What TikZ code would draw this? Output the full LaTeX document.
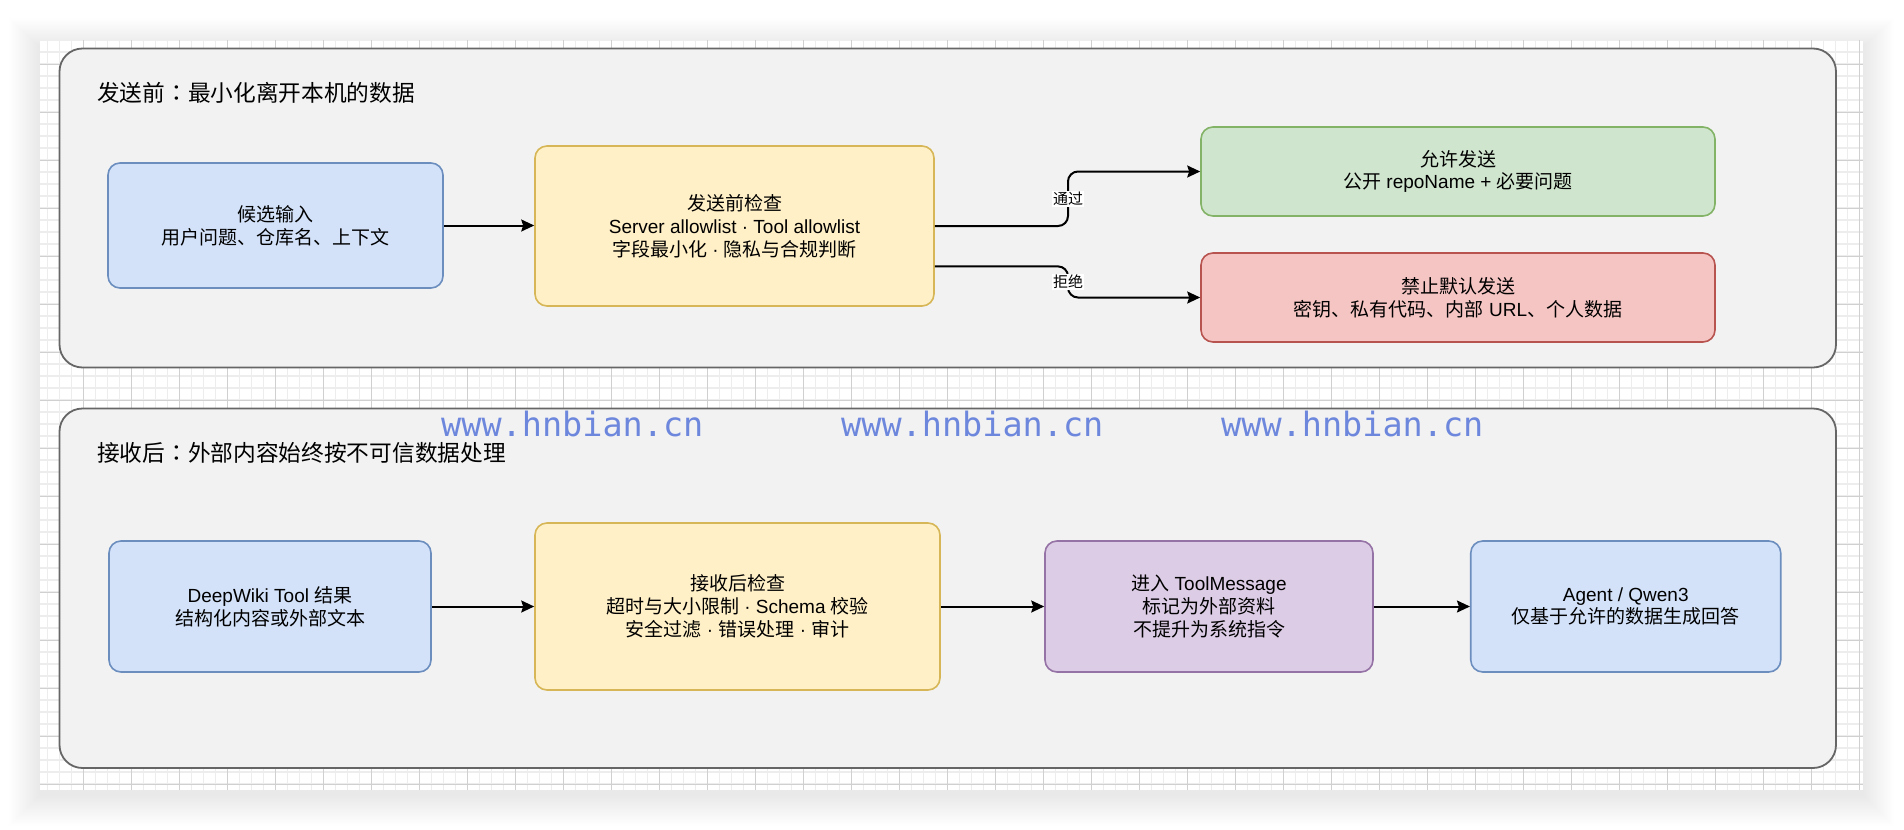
\documentclass[tikz,border=0pt]{standalone}
\usepackage{fontspec}
\setmainfont{Liberation Sans}
\newfontfamily\cjkf{Noto Sans CJK SC}
\newfontfamily\cjktc{Noto Sans CJK TC}
\newfontfamily\latf{Liberation Sans}
\newfontfamily\wmf{DejaVu Sans Mono}
\newcommand\lt[1]{{\latf #1}}
\newcommand\fcolon{{\cjktc ：}}
\usetikzlibrary{arrows.meta,calc}
\definecolor{bluef}{HTML}{D3E2F9}
\definecolor{blues}{HTML}{6C8EBF}
\definecolor{yelf}{HTML}{FFF0C7}
\definecolor{yels}{HTML}{D6B656}
\definecolor{grnf}{HTML}{D0E5CE}
\definecolor{grns}{HTML}{82B366}
\definecolor{redf}{HTML}{F5C5C3}
\definecolor{reds}{HTML}{B85450}
\definecolor{purf}{HTML}{DCCCE5}
\definecolor{purs}{HTML}{9673A6}
\definecolor{contf}{HTML}{F2F2F2}
\definecolor{conts}{HTML}{666666}
\definecolor{gridminor}{HTML}{EDEDED}
\definecolor{gridmajor}{HTML}{D0D0D0}
\definecolor{wm}{HTML}{6D87DD}
\tikzset{
  box/.style={draw, line width=1.6pt, rounded corners=12pt, align=center, inner sep=0pt,
    font=\cjkf\fontsize{19}{22.8}\selectfont},
  container/.style={draw=conts, fill=contf, line width=1.8pt, rounded corners=23pt},
  arr/.style={-{Stealth[length=13pt,width=12pt,inset=2pt]}, line width=2pt, draw=black},
  lab/.style={fill=white, inner sep=1pt, font=\cjkf\fontsize{15}{18}\selectfont},
  ttl/.style={anchor=west, inner sep=0pt, font=\cjkf\fontsize{22.7}{27}\selectfont},
  wmark/.style={anchor=base west, inner sep=0pt, text=wm, font=\wmf\fontsize{33.5}{40}\selectfont}
}
\begin{document}
\begin{tikzpicture}[x=1pt,y=-1pt]
\useasboundingbox (0,0) rectangle (1904,830);
\fill[white] (0,0) rectangle (1904,830);
% page shadow
\foreach \i in {1,...,22} {
  \fill[black,fill opacity=0.0045] (40-1.4*\i,47-1.3*\i) rectangle (1863+1.4*\i,795+1.4*\i);
}
\fill[white] (40,40.5) rectangle (1863,790);
% grid
\begin{scope}
\clip (40,40.5) rectangle (1863,790);
\foreach \x in {47.5,59.5,...,1870} \draw[gridminor,line width=1.2pt] (\x,40) -- (\x,790);
\foreach \y in {52,64,...,795} \draw[gridminor,line width=1.2pt] (40,\y) -- (1863,\y);
\foreach \x in {35.5,83.5,...,1870} \draw[gridmajor,line width=1pt] (\x,40) -- (\x,790);
\foreach \y in {16,64,...,795} \draw[gridmajor,line width=1pt] (40,\y) -- (1863,\y);
\end{scope}
% containers
\draw[container] (59.5,48.5) rectangle (1836,367.5);
\draw[container] (59.5,408.5) rectangle (1836,768);
\node[ttl] (t1) at (97,93) {发送前\fcolon 最小化离开本机的数据};
\node[ttl] (t2) at (97,453) {接收后\fcolon 外部内容始终按不可信数据处理};
% watermark
\node[wmark] (w1) at (441,436.7) {www.hnbian.cn};
\node[wmark] (w2) at (841,436.7) {www.hnbian.cn};
\node[wmark] (w3) at (1221,436.7) {www.hnbian.cn};
% row 1
\node[box, fill=bluef, draw=blues, minimum width=335pt, minimum height=125pt] (in1) at (275.5,225.5)
  {候选输入\\用户问题、仓库名、上下文};
\node[box, fill=yelf, draw=yels, minimum width=399pt, minimum height=160pt] (chk1) at (734.5,226)
  {发送前检查\\\lt{Server allowlist · Tool allowlist}\\字段最小化\lt{ · }隐私与合规判断};
\node[box, fill=grnf, draw=grns, minimum width=514pt, minimum height=89pt] (ok) at (1458,171.5)
  {允许发送\\公开\lt{ repoName + }必要问题};
\node[box, fill=redf, draw=reds, minimum width=514pt, minimum height=89pt] (no) at (1458,297.5)
  {禁止默认发送\\密钥、私有代码、内部\lt{ URL}、个人数据};
% row 2
\node[box, fill=bluef, draw=blues, minimum width=322pt, minimum height=131pt] (tool) at (270,606.5)
  {\lt{DeepWiki Tool }结果\\结构化内容或外部文本};
\node[box, fill=yelf, draw=yels, minimum width=405pt, minimum height=167pt] (chk2) at (737.5,606.5)
  {接收后检查\\超时与大小限制\lt{ · Schema }校验\\安全过滤\lt{ · }错误处理\lt{ · }审计};
\node[box, fill=purf, draw=purs, minimum width=328pt, minimum height=131pt] (msg) at (1209,606.5)
  {进入\lt{ ToolMessage}\\标记为外部资料\\不提升为系统指令};
\node[box, fill=bluef, draw=blues, minimum width=310pt, minimum height=131pt] (agent) at (1625.75,606.5)
  {\lt{Agent / Qwen3}\\仅基于允许的数据生成回答};
% connectors row 1
\draw[arr] (in1.east) -- (in1.east -| chk1.west);
\coordinate (j) at (1068,0);
\coordinate (s2) at ($(chk1.north east)!0.75!(chk1.south east)$);
\draw[arr, rounded corners=10pt] (chk1.east) -- (chk1.east -| j) -- (j |- ok.west) -- (ok.west);
\draw[arr, rounded corners=10pt] (s2) -- (s2 -| j) -- (j |- no.west) -- (no.west);
\node[lab] (l1) at ($(j |- chk1.east)!0.5!(j |- ok.west)$) {通过};
\node[lab] (l2) at ($(j |- s2)!0.5!(j |- no.west)$) {拒绝};
% connectors row 2
\draw[arr] (tool.east) -- (tool.east -| chk2.west);
\draw[arr] (chk2.east) -- (chk2.east -| msg.west);
\draw[arr] (msg.east) -- (msg.east -| agent.west);
\end{tikzpicture}
\end{document}
